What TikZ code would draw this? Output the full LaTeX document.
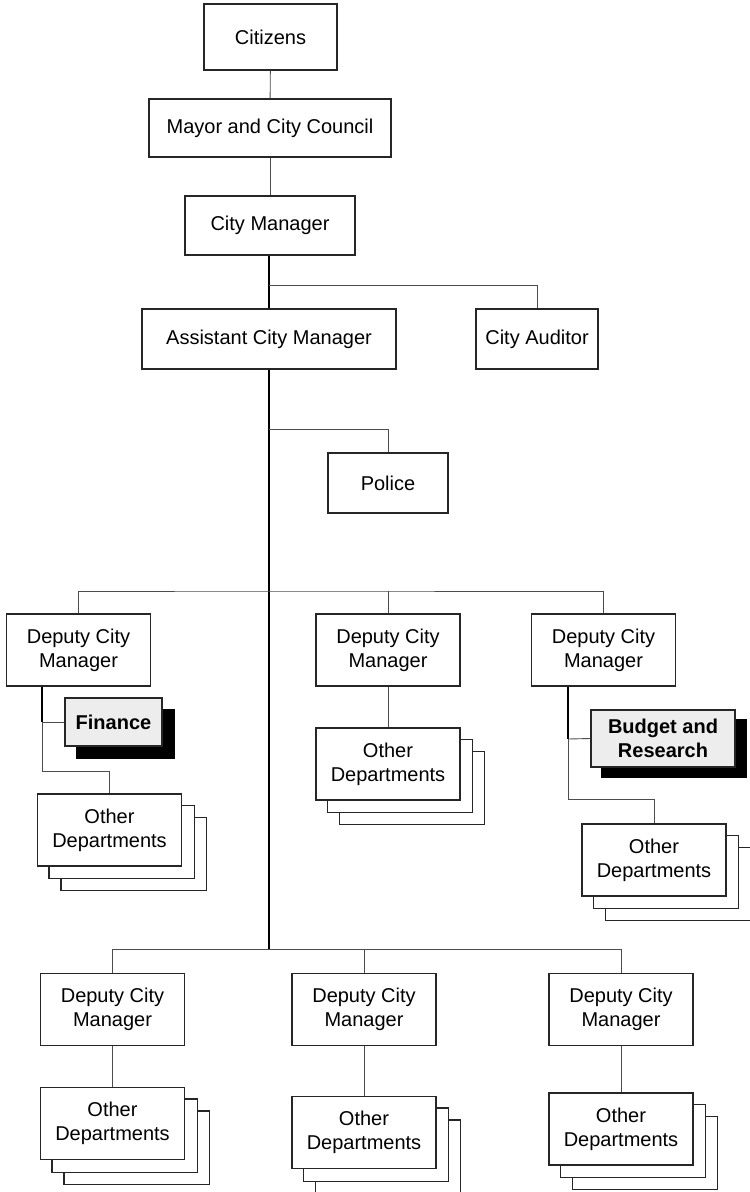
\documentclass[tikz,border=0pt]{standalone}
\usepackage{fontspec}
\setmainfont{Liberation Sans}
\usetikzlibrary{backgrounds}

\tikzset{
  box/.style={draw=black!85, line width=1.2pt, fill=white, align=center,
    inner sep=0pt, font=\fontsize{20}{24}\selectfont},
  unit/.style={box, minimum width=#1},
  deputy/.style={box, minimum width=144pt, minimum height=72pt},
  dept/.style={box, minimum width=144pt, minimum height=72pt},
  keybox/.style={box, fill=black!7, font=\fontsize{20}{24}\selectfont\bfseries},
  link/.style={draw=black!70, line width=0.9pt},
  trunk/.style={draw=black, line width=2.2pt},
}

% two copies stacked behind a department box
\newcommand{\stackbehind}[1]{%
  \begin{scope}[on background layer]
    \draw[box] ([shift={(24pt,-24pt)}]#1.south west) rectangle ([shift={(24pt,-24pt)}]#1.north east);
    \draw[box] ([shift={(12pt,-12pt)}]#1.south west) rectangle ([shift={(12pt,-12pt)}]#1.north east);
  \end{scope}}

% solid black drop shadow
\newcommand{\dropshadow}[3]{%
  \begin{scope}[on background layer]
    \fill[black] ([shift={(#2,#3)}]#1.south west) rectangle ([shift={(#2,#3)}]#1.north east);
  \end{scope}}

\begin{document}
\begin{tikzpicture}[x=1pt, y=-1pt]
\useasboundingbox (0,0) rectangle (750,1192);

% top of the hierarchy
\node[unit=133pt, minimum height=66pt] (cit) at (270.5,37) {Citizens};
\node[unit=242pt, minimum height=58pt] (mayor) at (270,128) {Mayor and City Council};
\node[unit=170pt, minimum height=59pt] (cm) at (270,225.5) {City Manager};
\node[unit=254pt, minimum height=60pt] (acm) at (269,339) {Assistant City Manager};
\node[unit=122pt, minimum height=60pt] (aud) at (537,339) {City Auditor};
\node[unit=120pt, minimum height=60pt] (pol) at (388,483) {Police};

% first row of deputies
\node[deputy] (dl) at (78.5,650) {Deputy City\\Manager};
\node[deputy] (dm) at (388,650) {Deputy City\\Manager};
\node[deputy] (dr) at (603.5,650) {Deputy City\\Manager};

\node[keybox, minimum width=97pt, minimum height=48pt] (fin) at (113.5,722) {Finance};
\dropshadow{fin}{12pt}{-12pt}
\node[keybox, minimum width=144pt, minimum height=57pt] (bud) at (663,738.5) {Budget and\\Research};
\dropshadow{bud}{11pt}{-10pt}

\node[dept] (odl) at (109.5,830) {Other\\Departments};
\stackbehind{odl}
\node[dept] (odm) at (388,764) {Other\\Departments};
\stackbehind{odm}
\node[dept] (odr) at (654,860) {Other\\Departments};
\stackbehind{odr}

% second row of deputies
\node[deputy] (bl) at (112.5,1009.5) {Deputy City\\Manager};
\node[deputy] (bm) at (364,1009.5) {Deputy City\\Manager};
\node[deputy] (br) at (621,1009.5) {Deputy City\\Manager};

\node[dept] (obl) at (112.5,1123.5) {Other\\Departments};
\stackbehind{obl}
\node[dept] (obm) at (364,1132.5) {Other\\Departments};
\stackbehind{obm}
\node[dept] (obr) at (621,1129) {Other\\Departments};
\stackbehind{obr}

% junction points
\coordinate (j1) at (269,285);
\coordinate (j2) at (269,429);
\coordinate (j3) at (269,591);
\coordinate (j4) at (269,949);
\coordinate (fa) at (42,722);
\coordinate (fb) at (42,771);
\coordinate (ba) at (568,739);
\coordinate (bb) at (568,799);

% connectors
\draw[link] (cit) -- (mayor);
\draw[link] (mayor) -- (cm);
\draw[trunk] (cm.south -| j1) -- (acm.north -| j1);
\draw[link] (j1) -| (aud.north);
\draw[trunk] (acm.south -| j2) -- (j4);
\draw[link] (j2) -| (pol.north);

\draw[link] (dl.north) |- (j3) -| (dr.north);
\draw[link] (dm.north) -- (dm.north |- j3);

\draw[trunk] (dl.south -| fa) -- (fa);
\draw[link] (fa) -- (fin.west);
\draw[link] (fa) -- (fb) -| (odl.north);

\draw[link] (dm.south) -- (odm.north);

\draw[trunk] (dr.south -| ba) -- (ba);
\draw[link] (ba) -- (bud.west);
\draw[link] (ba) -- (bb) -| (odr.north);

\draw[link] (bl.north) |- (j4) -| (br.north);
\draw[link] (bm.north) -- (bm.north |- j4);
\draw[link] (bl.south) -- (obl.north);
\draw[link] (bm.south) -- (obm.north);
\draw[link] (br.south) -- (obr.north);
\end{tikzpicture}
\end{document}
